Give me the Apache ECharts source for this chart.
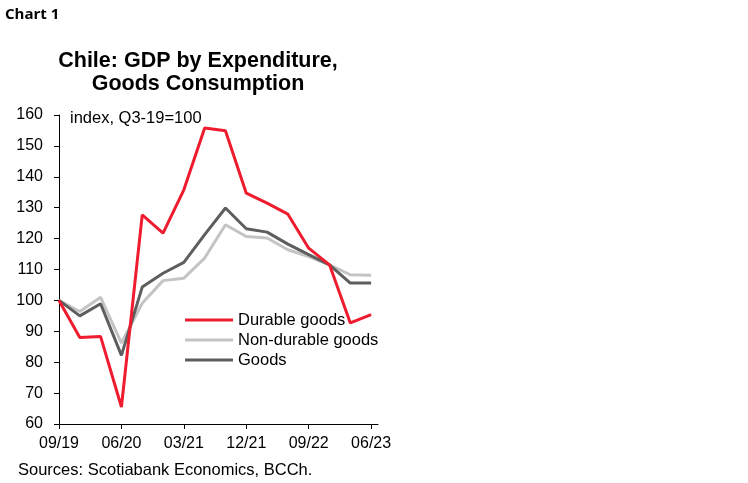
<!DOCTYPE html>
<html><head><meta charset="utf-8">
<script src="https://cdn.jsdelivr.net/npm/echarts@6/dist/echarts.min.js"></script>
<style>html,body{margin:0;padding:0;background:#fff}#c{width:748px;height:483px}</style>
</head><body><div id="c"></div>
<script>
var categories = ['09/19','12/19','03/20','06/20','09/20','12/20','03/21','06/21','09/21','12/21','03/22','06/22','09/22','12/22','03/23','06/23'];
var tickLabels = ['09/19','06/20','03/21','12/21','09/22','06/23'];
var durable = [100, 88.0, 88.3, 65.5, 127.7, 121.8, 135.8, 155.8, 154.9, 134.7, 131.5, 127.9, 116.9, 111.5, 92.7, 95.4];
var nonDurable = [100, 96.4, 101.0, 86.2, 99.1, 106.4, 107.2, 113.7, 124.5, 120.7, 120.2, 116.4, 114.2, 111.5, 108.3, 108.1];
var goods = [100, 95.0, 98.9, 82.2, 104.3, 108.8, 112.3, 121.3, 129.9, 123.2, 122.1, 118.2, 114.8, 111.5, 105.6, 105.6];

function pairs(arr){ return arr.map(function(v,i){ return [i, v]; }); }
var F = '"Liberation Sans", Arial, sans-serif';
var chart = echarts.init(document.getElementById('c'));
chart.setOption({
  animation: false,
  backgroundColor: '#fff',
  graphic: [
    {type:'text', left: 5, top: 7, style:{text:'Chart 1', font:'bold 15px "Open Sans", "Noto Sans", sans-serif', fill:'#000'}},
    {type:'text', left: 70, top: 110, style:{text:'index, Q3-19=100', font:'16.5px ' + F, fill:'#000'}},
    {type:'text', left: 18, top: 462, style:{text:'Sources: Scotiabank Economics, BCCh.', font:'16.5px ' + F, fill:'#000'}}
  ],
  title: {
    text: 'Chile: GDP by Expenditure,\nGoods Consumption',
    left: 198, top: 50, textAlign: 'center', padding: 0,
    textStyle: {fontFamily: F, fontWeight: 'bold', fontSize: 21.5, lineHeight: 23, color: '#000'}
  },
  legend: {
    orient: 'vertical', left: 185, top: 310, itemWidth: 48, itemHeight: 3, itemGap: 0, padding: 0,
    icon: 'rect',
    textStyle: {fontFamily: F, fontSize: 16.5, color: '#000', lineHeight: 20, padding: [0,0,0,0]},
    data: ['Durable goods','Non-durable goods','Goods']
  },
  grid: {left: 59, top: 115, right: 370, bottom: 59, containLabel: false},
  xAxis: {
    type: 'value', min: 0, max: 15.33, interval: 3,
    axisLine: {show: true, lineStyle: {color: '#000', width: 1}},
    axisTick: {show: true, length: 5, inside: false, lineStyle: {color: '#000'}},
    splitLine: {show: false},
    axisLabel: {fontFamily: F, fontSize: 16, color: '#000', margin: 12, showMaxLabel: false,
      formatter: function(v){ var i = Math.round(v); return (i % 3 === 0 && categories[i]) ? categories[i] : ''; }}
  },
  yAxis: {
    type: 'value', min: 60, max: 160, interval: 10,
    axisLine: {show: true, lineStyle: {color: '#000', width: 1}},
    axisTick: {show: true, length: 5, lineStyle: {color: '#000'}},
    splitLine: {show: false},
    axisLabel: {fontFamily: F, fontSize: 16, color: '#000', margin: 16}
  },
  series: [
    {name: 'Durable goods', type: 'line', data: pairs(durable), showSymbol: false, symbol: 'none',
      itemStyle: {color: '#EE1C2E'}, lineStyle: {color: '#EE1C2E', width: 3}, z: 3},
    {name: 'Non-durable goods', type: 'line', data: pairs(nonDurable), showSymbol: false, symbol: 'none',
      itemStyle: {color: '#C4C4C4'}, lineStyle: {color: '#C4C4C4', width: 3}, z: 1},
    {name: 'Goods', type: 'line', data: pairs(goods), showSymbol: false, symbol: 'none',
      itemStyle: {color: '#5E5E5E'}, lineStyle: {color: '#5E5E5E', width: 3}, z: 2}
  ]
});
</script></body></html>
